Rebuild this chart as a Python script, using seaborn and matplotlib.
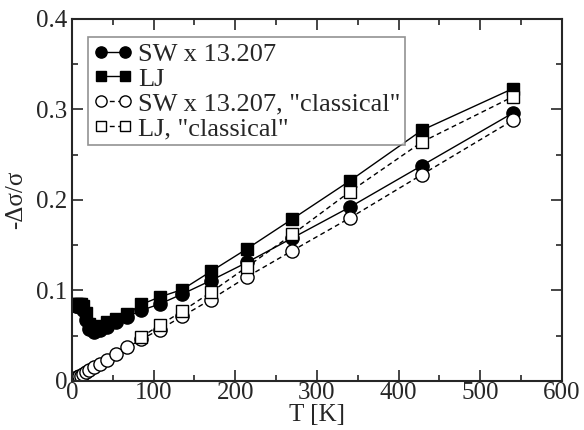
import matplotlib
matplotlib.use("Agg")
import matplotlib.pyplot as plt
from matplotlib.ticker import MultipleLocator, FuncFormatter
import seaborn as sns
import pandas as pd

# Temperatures [K]
T_all = [5.3, 6.7, 8.4, 10.6, 13.4, 16.9, 21.3, 26.8, 33.75, 42.5, 53.6, 67.5,
         85.0, 107.2, 135.0, 170.1, 214.3, 270.0, 340.2, 428.6, 540.0]
T_cl_lj = [85.0, 107.2, 135.0, 170.1, 214.3, 270.0, 340.2, 428.6, 540.0]

# -dsigma/sigma
sw = [0.083, 0.083, 0.083, 0.082, 0.078, 0.067, 0.057, 0.054, 0.056, 0.060, 0.065, 0.071,
      0.078, 0.085, 0.096, 0.111, 0.131, 0.158, 0.192, 0.238, 0.296]
lj = [0.085, 0.085, 0.085, 0.085, 0.083, 0.075, 0.063, 0.059, 0.061, 0.065, 0.069, 0.074,
      0.0846, 0.0927, 0.101, 0.121, 0.146, 0.179, 0.221, 0.277, 0.323]
sw_cl = [0.003, 0.004, 0.005, 0.006, 0.0075, 0.0095, 0.012, 0.015, 0.019, 0.023, 0.030, 0.037,
         0.046, 0.0568, 0.0714, 0.090, 0.115, 0.144, 0.180, 0.228, 0.288]
lj_cl = [0.0487, 0.0615, 0.077, 0.098, 0.126, 0.162, 0.209, 0.264, 0.314]

labels = ["SW x 13.207", "LJ", 'SW x 13.207, "classical"', 'LJ, "classical"']

sns.set_style("ticks")
plt.rcParams["font.family"] = ["Liberation Serif", "DejaVu Serif"]

fig = plt.figure(figsize=(5.84, 4.30), dpi=100)
ax = fig.add_axes([0.1233, 0.114, 0.8387, 0.842])

series = [
    (T_all, sw, labels[0], "o", "black", (None, None)),
    (T_all, lj, labels[1], "s", "black", (None, None)),
    (T_all, sw_cl, labels[2], "o", "white", (3.5, 2.5)),
    (T_cl_lj, lj_cl, labels[3], "s", "white", (3.5, 2.5)),
]
for x, y, lab, mk, fc, dash in series:
    df = pd.DataFrame({"T": x, "v": y})
    kw = {} if dash[0] is None else {"dashes": dash}
    sns.lineplot(data=df, x="T", y="v", ax=ax, label=lab, marker=mk,
                 markersize=9.5 if mk == "o" else 8.5, markerfacecolor=fc,
                 markeredgecolor="black", markeredgewidth=1.0,
                 color="black", linewidth=1.0, sort=False, **kw)

ax.set_xlim(0, 600)
ax.set_ylim(0, 0.4)
ax.xaxis.set_major_locator(MultipleLocator(100))
ax.xaxis.set_minor_locator(MultipleLocator(50))
ax.yaxis.set_major_locator(MultipleLocator(0.1))
ax.yaxis.set_minor_locator(MultipleLocator(0.05))
ax.yaxis.set_major_formatter(FuncFormatter(lambda v, p: "0" if abs(v) < 1e-9 else f"{v:.1f}"))
ax.tick_params(which="both", direction="in", top=True, right=True, labelsize=18, width=1.2)
ax.tick_params(axis="x", pad=1)
ax.tick_params(which="major", length=8)
ax.tick_params(which="minor", length=4)
for s in ax.spines.values():
    s.set_linewidth(1.5)
    s.set_visible(True)

ax.set_xlabel("T [K]", fontsize=18, labelpad=0)
ax.set_ylabel("-Δσ/σ", fontsize=18, labelpad=6)

leg = ax.legend(loc="upper left", bbox_to_anchor=(0.032, 0.95), fontsize=19, numpoints=2,
                handlelength=1.5, handletextpad=0.2, borderpad=0.2, labelspacing=0.05,
                frameon=True, fancybox=False, borderaxespad=0, markerscale=0.85)
leg.get_frame().set_edgecolor("#777777")
leg.get_frame().set_linewidth(1.2)

fig.savefig("out.png", dpi=100)
